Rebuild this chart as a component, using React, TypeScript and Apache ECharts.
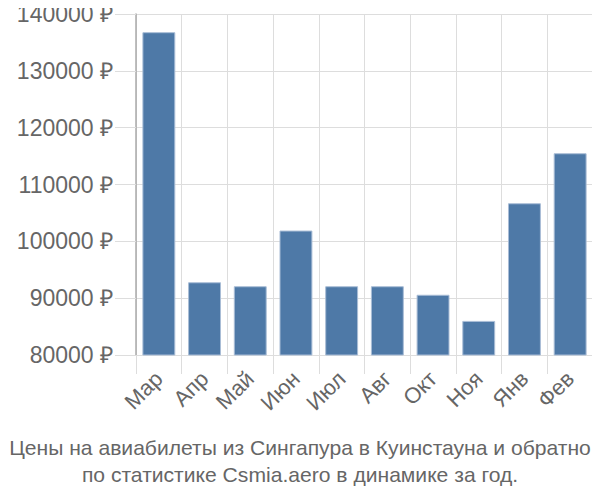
import React, { useEffect, useRef } from "react";
import * as echarts from "echarts";

const months = ["Мар", "Апр", "Май", "Июн", "Июл", "Авг", "Окт", "Ноя", "Янв", "Фев"];
const prices = [136800, 92800, 92100, 101900, 92100, 92100, 90600, 86000, 106700, 115500];
const yTicks = { min: 80000, max: 140000, interval: 10000 };
const titleLines = [
  "Цены на авиабилеты из Сингапура в Куинстауна и обратно",
  "по статистике Csmia.aero в динамике за год.",
];

export default function App() {
  const ref = useRef<HTMLDivElement>(null);
  useEffect(() => {
    if (!ref.current) return;
    const chart = echarts.init(ref.current, undefined, { renderer: "svg" });
    const font = "'Liberation Sans', Arial, sans-serif";
    chart.setOption({
      animation: false,
      textStyle: { fontFamily: font },
      title: {
        text: titleLines.join("\n"),
        left: "center",
        top: 429,
        textStyle: { fontSize: 21.1, lineHeight: 27, color: "#666", fontWeight: "normal", fontFamily: font },
      },
      grid: { left: 136, right: 7, top: 14, bottom: 145 },
      xAxis: {
        type: "category",
        data: months,
        axisLine: { lineStyle: { color: "#ddd", width: 1 } },
        axisTick: { show: true, length: 19, alignWithLabel: false, lineStyle: { color: "#ddd" } },
        splitLine: { show: true, lineStyle: { color: "#ddd", width: 1 } },
        axisLabel: { rotate: 45, fontSize: 22, color: "#666", margin: 20, fontFamily: font },
      },
      yAxis: {
        type: "value",
        min: yTicks.min,
        max: yTicks.max,
        interval: yTicks.interval,
        axisLine: { show: true, lineStyle: { color: "#aaa", width: 1.5 } },
        axisTick: { show: true, length: 21, lineStyle: { color: "#ddd" } },
        splitLine: { show: true, lineStyle: { color: "#ddd", width: 1 } },
        axisLabel: {
          fontSize: 23,
          color: "#666",
          margin: 23,
          fontFamily: font,
          formatter: (v: number) => `${v} ₽`,
        },
      },
      series: [
        {
          type: "bar",
          data: prices,
          barWidth: "72%",
          itemStyle: { color: "#4e79a7", borderColor: "#a9bdd6", borderWidth: 1 },
        },
      ],
    });
    return () => chart.dispose();
  }, []);
  return <div ref={ref} style={{ width: 600, height: 500, margin: -8 }} />;
}
